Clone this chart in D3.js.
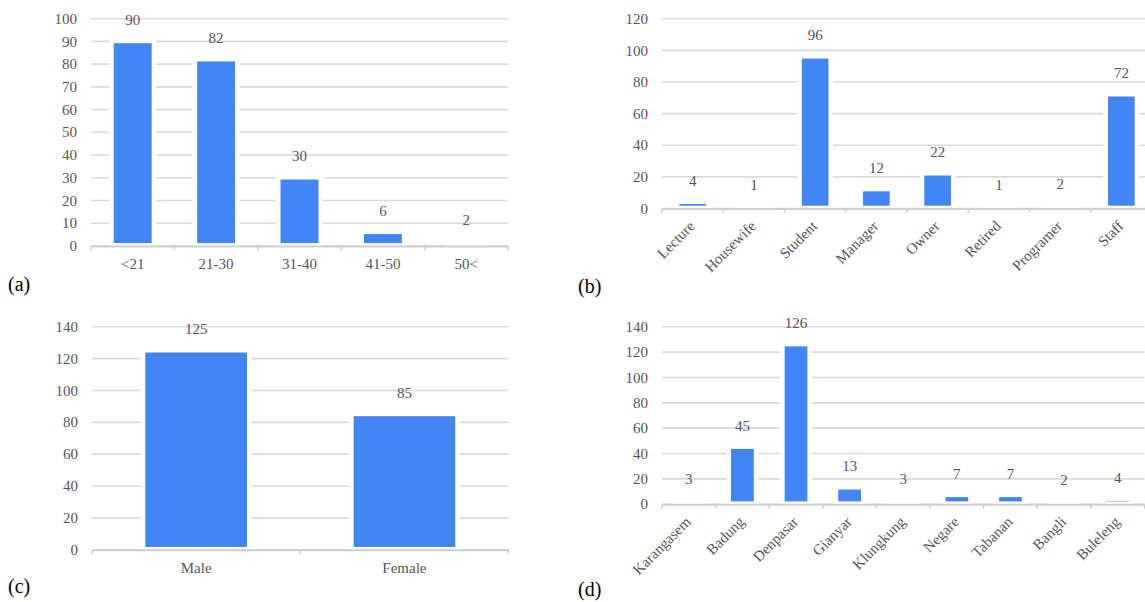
<!DOCTYPE html>
<html>
<head>
<meta charset="utf-8">
<script src="https://cdn.jsdelivr.net/npm/d3@7"></script>
<style>
  body { margin: 0; background: #fff; }
  svg { display: block; }
  text { font-family: 'Liberation Serif', 'Times New Roman', serif; }
  .grid line { stroke: #d9d9d9; stroke-width: 1.6; }
  .grid text { fill: #555; font-size: 15px; }
  .cat text { fill: #555; font-size: 15px; }
  .val { fill: #555; font-size: 15px; }
  .panel-label { fill: #000; font-size: 20px; }
</style>
</head>
<body>
<svg id="chart" width="1145" height="602"></svg>
<script>
const ageCats = ['<21', '21-30', '31-40', '41-50', '50<']
const ageVals = [90, 82, 30, 6, 2]

const jobCats = ['Lecture', 'Housewife', 'Student', 'Manager', 'Owner', 'Retired', 'Programer', 'Staff']
const jobVals = [4, 1, 96, 12, 22, 1, 2, 72]

const genderCats = ['Male', 'Female']
const genderVals = [125, 85]

const regionCats = ['Karangasem', 'Badung', 'Denpasar', 'Gianyar', 'Klungkung', 'Negare', 'Tabanan', 'Bangli', 'Buleleng']
const regionVals = [3, 45, 126, 13, 3, 7, 7, 2, 4]

const BLUE = '#4285f4'
const svg = d3.select('#chart')

function drawPanel(p) {
  const g = svg.append('g')
  const xs = d3.scaleBand().domain(p.cats).range([p.left, p.right]).paddingInner(0.49).paddingOuter(0.245)
  const ys = d3.scaleLinear().domain([0, p.max]).range([p.y0, p.top])

  // gridlines + y labels
  g.append('g')
    .classed('grid', true)
    .attr('transform', `translate(${p.left},0)`)
    .call(d3.axisLeft(ys).tickValues(d3.range(0, p.max + 1, p.step)).tickSize(-(p.right - p.left)).tickPadding(14))
    .call((a) => a.select('.domain').remove())
    .attr('font-family', null)
    .attr('font-size', null)
    .selectAll('text')
    .attr('dy', '0.34em')

  // bars
  g.append('g')
    .selectAll('rect')
    .data(p.vals)
    .join('rect')
    .attr('x', (d, i) => xs(p.cats[i]))
    .attr('width', xs.bandwidth())
    .attr('y', (d) => ys(d))
    .attr('height', (d) => ys(0) - ys(d))
    .attr('fill', BLUE)
    .attr('stroke', '#fff')
    .attr('stroke-width', 4.6)

  // axis line and ticks at band edges
  const step = xs.step()
  g.append('line')
    .attr('x1', p.left).attr('x2', p.right)
    .attr('y1', ys(0) + 1).attr('y2', ys(0) + 1)
    .attr('stroke', '#cfcfcf').attr('stroke-width', 2)
  g.append('g')
    .selectAll('line')
    .data(d3.range(p.cats.length + 1))
    .join('line')
    .attr('x1', (i) => p.left + i * step).attr('x2', (i) => p.left + i * step)
    .attr('y1', ys(0) + 1).attr('y2', ys(0) + 5)
    .attr('stroke', '#cfcfcf').attr('stroke-width', 1.6)

  // value labels
  g.append('g')
    .selectAll('text')
    .data(p.vals)
    .join('text')
    .classed('val', true)
    .attr('x', (d, i) => xs(p.cats[i]) + xs.bandwidth() / 2)
    .attr('y', (d) => ys(d) - 16)
    .attr('text-anchor', 'middle')
    .text((d) => d)

  // category labels
  const cg = g.append('g').classed('cat', true)
  const cx = (c) => xs(c) + xs.bandwidth() / 2
  if (p.rotate) {
    cg.selectAll('text')
      .data(p.cats)
      .join('text')
      .attr('text-anchor', 'end')
      .attr('transform', (c) => `translate(${cx(c) + 3},${ys(0) + 19}) rotate(-45)`)
      .text((c) => c)
  } else {
    cg.selectAll('text')
      .data(p.cats)
      .join('text')
      .attr('text-anchor', 'middle')
      .attr('x', cx)
      .attr('y', ys(0) + 23.5)
      .text((c) => c)
  }

  svg.append('text')
    .classed('panel-label', true)
    .attr('x', p.labelX)
    .attr('y', p.labelY)
    .text(p.label)
}

drawPanel({ cats: ageCats, vals: ageVals, left: 91, right: 508, y0: 245.4, top: 18.2, max: 100, step: 10, rotate: false, label: '(a)', labelX: 8, labelY: 291 })
drawPanel({ cats: jobCats, vals: jobVals, left: 662, right: 1152, y0: 208, top: 18.3, max: 120, step: 20, rotate: true, label: '(b)', labelX: 578, labelY: 293 })
drawPanel({ cats: genderCats, vals: genderVals, left: 92, right: 508.6, y0: 549.2, top: 326.3, max: 140, step: 20, rotate: false, label: '(c)', labelX: 8, labelY: 593 })
drawPanel({ cats: regionCats, vals: regionVals, left: 662, right: 1144.5, y0: 503.7, top: 326.3, max: 140, step: 20, rotate: true, label: '(d)', labelX: 578, labelY: 596 })
</script>
</body>
</html>
